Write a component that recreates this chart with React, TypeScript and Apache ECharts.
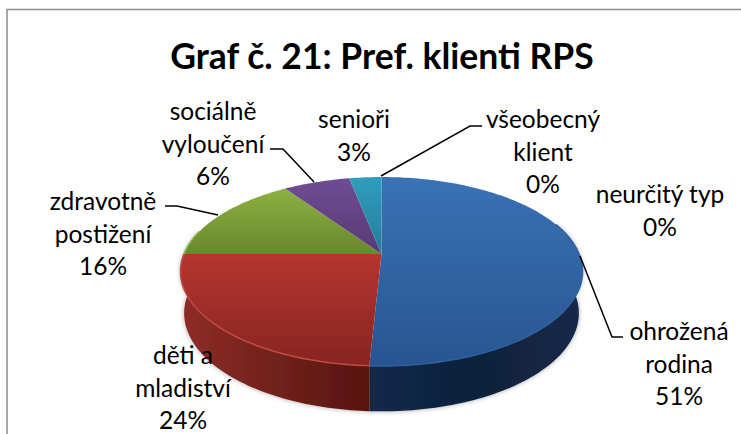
import React, { useEffect, useRef } from "react";
import * as echarts from "echarts";

const categories = ["ohrožená\nrodina", "děti a\nmladiství", "zdravotně\npostižení", "sociálně\nvyloučení", "senioři", "všeobecný\nklient", "neurčitý typ"];
const shares = [50.8, 24.2, 15.5, 6.4, 3.1, 0, 0];
const topColors = [["#3a72b6", "#285590"], ["#b6352f", "#862421"], ["#8db042", "#68882d"], ["#704b94", "#583a76"], ["#2f9dbd", "#257d9a"], ["#888", "#888"], ["#888", "#888"]];
const sideColors = [["#12294a", "#10213a", "#15294a"], ["#8e2c28", "#72211c", "#56140f"], ["#555", "#555", "#555"], ["#444", "#444", "#444"], ["#333", "#333", "#333"], ["#333", "#333", "#333"], ["#333", "#333", "#333"]];
const rimColors = ["#2f619f", "#bf4a42", "#8db042", "#704b94", "#2f9dbd", "#888", "#888"];
const titleText = "Graf č. 21: Pref. klienti RPS";

const labelSpots = [[679, 363], [183, 387], [103, 233], [213, 143], [354, 135], [543, 151], [660, 210]];
const leaders = [
  [[580, 256], [612, 337], [623, 337]],
  [[165, 206], [177, 206], [218, 215]],
  [[270, 149], [283, 149], [314, 182]],
  [[381, 176], [470, 126], [482, 126]],
];
const leaderOwners = [0, 2, 3, 5];

const cx = 381.5, cy = 254, a = 197.5, b = 91.2, k = 0.185;
const total = shares.reduce((s, v) => s + v, 0);
const starts: number[] = [];
shares.reduce((s, v, i) => { starts[i] = s; return s + v; }, 0);

function topPt(t: number): number[] {
  const u = Math.sin(t), v = Math.cos(t), w = 1 + k * v;
  return [cx + (a * u) / w, cy - (b * v) / w];
}
function botPt(t: number): number[] {
  const p = topPt(t);
  return [cx + (p[0] - cx) * 0.982, cy + 41 + (p[1] - cy) * 1.04];
}
function arcPts(fn: (t: number) => number[], t0: number, t1: number): number[][] {
  const n = Math.max(2, Math.ceil((t1 - t0) / 0.02));
  const out: number[][] = [];
  for (let i = 0; i <= n; i++) out.push(fn(t0 + ((t1 - t0) * i) / n));
  return out;
}
function angles(i: number, value: number): number[] {
  const t0 = (starts[i] / total) * Math.PI * 2;
  return [t0, t0 + (value / total) * Math.PI * 2];
}

function renderSide(params: any, api: any) {
  const i = params.dataIndex;
  const [s, e] = angles(i, api.value(0));
  const t0 = Math.max(s, (70 * Math.PI) / 180), t1 = Math.min(e, (285 * Math.PI) / 180);
  if (t1 <= t0) return null;
  const pts = arcPts(topPt, t0, t1).concat(arcPts(botPt, t0, t1).reverse());
  const c = sideColors[i];
  return {
    type: "polygon",
    shape: { points: pts },
    style: {
      fill: new echarts.graphic.LinearGradient(0, 0, 1, 0, [
        { offset: 0, color: c[0] }, { offset: 0.5, color: c[1] }, { offset: 1, color: c[2] },
      ]),
      shadowBlur: 5, shadowColor: "rgba(0,0,0,0.35)",
    },
  };
}
function renderTop(params: any, api: any) {
  const i = params.dataIndex;
  const [t0, t1] = angles(i, api.value(0));
  if (t1 <= t0) return null;
  const rim = arcPts(topPt, t0, t1);
  const c = topColors[i];
  const children: any[] = [{
    type: "polygon",
    shape: { points: [[cx, cy], ...rim] },
    style: { fill: new echarts.graphic.LinearGradient(0, 0, 0, 1, [{ offset: 0, color: c[0] }, { offset: 1, color: c[1] }]) },
  }];
  const fr0 = Math.max(t0, (70 * Math.PI) / 180), fr1 = Math.min(t1, (285 * Math.PI) / 180);
  if (fr1 > fr0) {
    children.push({
      type: "polyline",
      shape: { points: arcPts(topPt, fr0, fr1) },
      style: { fill: "none", stroke: rimColors[i], lineWidth: 1.6 },
    });
  }
  return { type: "group", children };
}

const font = "Lato, 'Open Sans', sans-serif";
const lineStep = 32.5;

export default function App() {
  const ref = useRef<HTMLDivElement>(null);
  useEffect(() => {
    document.body.style.margin = "0";
    document.body.style.overflow = "hidden";
    const chart = echarts.init(ref.current!, null, { renderer: "svg" });
    const seriesData = categories.map((name, i) => ({ name, value: shares[i] }));
    const labelLines = categories.flatMap((name, i) => {
      const lines = `${name}\n${Math.round(shares[i])}%`.split("\n");
      return lines.map((text, j) => ({
        type: "text", z: 6,
        x: labelSpots[i][0],
        y: labelSpots[i][1] + (j - (lines.length - 1) / 2) * lineStep,
        style: { text, align: "center", verticalAlign: "middle", fontFamily: font, fontSize: 24.5, fill: "#000" },
      }));
    });
    chart.setOption({
      animation: false,
      backgroundColor: "#fff",
      title: {
        text: titleText, left: 377, top: 32, textAlign: "center",
        textStyle: { fontFamily: font, fontWeight: "bold", fontSize: 35.5, color: "#000" },
      },
      series: [
        { type: "custom", coordinateSystem: "none", renderItem: renderSide, data: seriesData, silent: true },
        { type: "custom", coordinateSystem: "none", renderItem: renderTop, data: seriesData, silent: true },
      ],
      graphic: [
        { type: "rect", z: -1, silent: true, shape: { x: 7, y: 9.5, width: 800, height: 500 }, style: { fill: "#fff", stroke: "#8c8c8c", lineWidth: 1.5 } },
        ...leaders.map((pts, j) => ({
          type: "polyline", z: 5, name: categories[leaderOwners[j]],
          shape: { points: pts }, style: { fill: "none", stroke: "#000", lineWidth: 1.5 },
        })),
        ...labelLines,
      ],
    });
    return () => chart.dispose();
  }, []);
  return <div ref={ref} style={{ width: 741, height: 434 }} />;
}
